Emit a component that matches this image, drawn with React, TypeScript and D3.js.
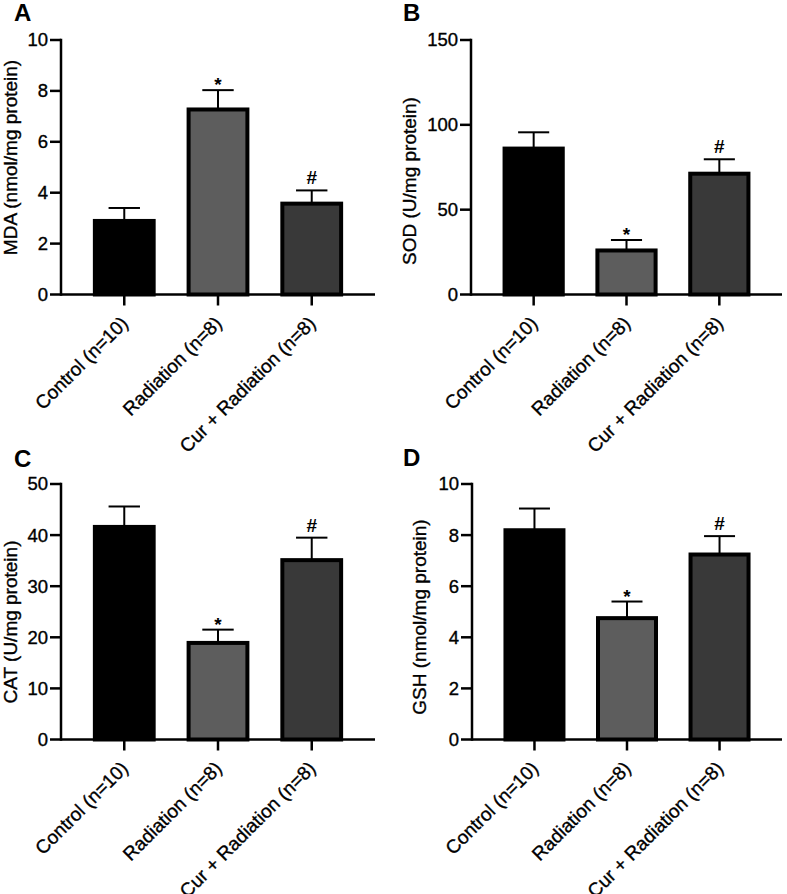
import React from "react";
import * as d3 from "d3";

const categories = ["Control (n=10)", "Radiation (n=8)", "Cur + Radiation (n=8)"];
const barColors = ["#000000", "#5d5d5d", "#393939"];

const mdaMeans = [2.89, 7.27, 3.57];
const mdaErrors = [0.51, 0.76, 0.52];
const mdaTicks = [0, 2, 4, 6, 8, 10];

const sodMeans = [86.0, 25.95, 71.2];
const sodErrors = [9.6, 6.2, 8.5];
const sodTicks = [0, 50, 100, 150];

const catMeans = [41.6, 18.9, 35.1];
const catErrors = [4.0, 2.6, 4.4];
const catTicks = [0, 10, 20, 30, 40, 50];

const gshMeans = [8.19, 4.75, 7.24];
const gshErrors = [0.85, 0.65, 0.72];
const gshTicks = [0, 2, 4, 6, 8, 10];

const significance = [
  ["", "*", "#"],
  ["", "*", "#"],
  ["", "*", "#"],
  ["", "*", "#"],
];

const FONT = "'Liberation Sans', Arial, Helvetica, sans-serif";
const TS = { stroke: "#000", strokeWidth: 0.35 } as const;

type PanelProps = {
  letter: string;
  title: string;
  means: number[];
  errors: number[];
  ticks: number[];
  marks: string[];
  left: number;
  right: number;
  top: number;
  bottom: number;
  titleX: number;
  titleY: number;
  letterX: number;
  letterY: number;
};

function Panel(p: PanelProps) {
  const yMax = p.ticks[p.ticks.length - 1];
  const y = d3.scaleLinear().domain([0, yMax]).range([p.bottom, p.top]);
  const x = d3
    .scaleBand<string>()
    .domain(categories)
    .range([p.left, p.right])
    .paddingInner(0.33)
    .paddingOuter(0.34);
  const bw = x.bandwidth();
  const sw = 4;
  return (
    <g>
      <text x={p.letterX} y={p.letterY} fontFamily={FONT} fontWeight="bold" fontSize={24}>
        {p.letter}
      </text>
      <text
        transform={`translate(${p.titleX},${p.titleY}) rotate(-90)`}
        textAnchor="middle"
        fontFamily={FONT}
        fontSize={19}
        {...TS}
      >
        {p.title}
      </text>
      {categories.map((c, i) => {
        const x0 = x(c)!;
        const cx = x0 + bw / 2;
        const yv = y(p.means[i]);
        const ye = y(p.means[i] + p.errors[i]);
        return (
          <g key={c}>
            <line x1={cx} x2={cx} y1={yv} y2={ye} stroke="#000" strokeWidth={2} />
            <line x1={cx - bw / 4} x2={cx + bw / 4} y1={ye} y2={ye} stroke="#000" strokeWidth={2} />
            <rect
              x={x0 + sw / 2}
              width={bw - sw}
              y={yv}
              height={p.bottom - yv}
              fill={barColors[i]}
              stroke="#000"
              strokeWidth={sw}
            />
            {p.marks[i] === "*" && (
              <text x={cx} y={ye + 1} textAnchor="middle" fontFamily={FONT} fontSize={19} fontWeight="bold">
                *
              </text>
            )}
            {p.marks[i] === "#" && (
              <text x={cx} y={ye - 6} textAnchor="middle" fontFamily={FONT} fontSize={19} fontWeight="bold">
                #
              </text>
            )}
          </g>
        );
      })}
      {/* y axis */}
      <line x1={p.left} x2={p.left} y1={p.bottom + 1.25} y2={p.top - 1.25} stroke="#000" strokeWidth={2.5} />
      {p.ticks.map((t) => (
        <g key={t}>
          <line x1={p.left - 11} x2={p.left} y1={y(t)} y2={y(t)} stroke="#000" strokeWidth={2.5} />
          <text
            x={p.left - 13}
            y={y(t)}
            dy="0.35em"
            textAnchor="end"
            fontFamily={FONT}
            fontSize={18.5}
            {...TS}
          >
            {t}
          </text>
        </g>
      ))}
      {/* x axis */}
      <line x1={p.left} x2={p.right} y1={p.bottom} y2={p.bottom} stroke="#000" strokeWidth={2.5} />
      {categories.map((c) => {
        const cx = x(c)! + bw / 2;
        return (
          <g key={"xt" + c}>
            <line x1={cx} x2={cx} y1={p.bottom} y2={p.bottom + 11} stroke="#000" strokeWidth={2.5} />
            <text
              transform={`translate(${cx + 5},${p.bottom + 30}) rotate(-45)`}
              textAnchor="end"
              fontFamily={FONT}
              fontSize={19}
              {...TS}
            >
              {c}
            </text>
          </g>
        );
      })}
    </g>
  );
}

export default function App() {
  return (
    <svg
      width={787}
      height={894}
      style={{ position: "absolute", left: 0, top: 0, background: "#fff" }}
    >
      <rect width={787} height={894} fill="#fff" />
      <Panel
        letter="A"
        title="MDA (nmol/mg protein)"
        means={mdaMeans}
        errors={mdaErrors}
        ticks={mdaTicks}
        marks={significance[0]}
        left={61}
        right={375}
        top={40}
        bottom={294.5}
        titleX={17}
        titleY={157.5}
        letterX={14}
        letterY={21}
      />
      <Panel
        letter="B"
        title="SOD (U/mg protein)"
        means={sodMeans}
        errors={sodErrors}
        ticks={sodTicks}
        marks={significance[1]}
        left={471}
        right={782}
        top={40}
        bottom={294.5}
        titleX={416}
        titleY={181}
        letterX={403}
        letterY={21}
      />
      <Panel
        letter="C"
        title="CAT (U/mg protein)"
        means={catMeans}
        errors={catErrors}
        ticks={catTicks}
        marks={significance[2]}
        left={61}
        right={375}
        top={484}
        bottom={739.5}
        titleX={17}
        titleY={622}
        letterX={14}
        letterY={467}
      />
      <Panel
        letter="D"
        title="GSH (nmol/mg protein)"
        means={gshMeans}
        errors={gshErrors}
        ticks={gshTicks}
        marks={significance[3]}
        left={472}
        right={782}
        top={484}
        bottom={739.5}
        titleX={426}
        titleY={617}
        letterX={403}
        letterY={466}
      />
    </svg>
  );
}
